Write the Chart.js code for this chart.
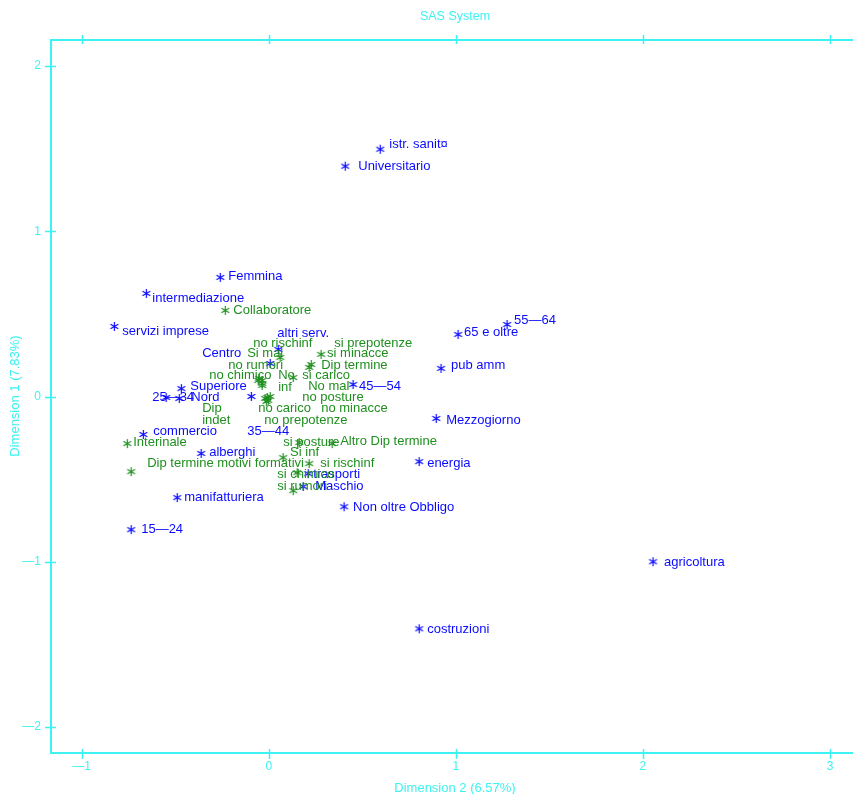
<!DOCTYPE html>
<html>
<head>
<meta charset="utf-8">
<script src="https://cdn.jsdelivr.net/npm/chart.js@4/dist/chart.umd.min.js"></script>
<style>
  html, body { margin: 0; padding: 0; background: #ffffff; }
  #wrap { width: 853px; height: 794px; }
</style>
</head>
<body>
<div id="wrap"><canvas id="c" width="853" height="794"></canvas></div>
<script>
// Correspondence analysis coordinates: Dimension 2 on x, Dimension 1 on y.

// Worker / firm profile categories (blue)
const rowNames = [
  "istr. sanit¤", "Universitario", "Femmina", "intermediazione", "servizi imprese",
  "altri serv.", "Centro", "Superiore", "25—34", "Nord", "35—44", "45—54",
  "55—64", "65 e oltre", "pub amm", "Mezzogiorno", "energia", "costruzioni",
  "agricoltura", "Non oltre Obbligo", "commercio", "alberghi", "trasporti",
  "Maschio", "manifatturiera", "15—24"
];
const rowDim2 = [
  0.596, 0.409, -0.259, -0.654, -0.825,
  0.051, 0.008, -0.467, -0.548, -0.478, -0.093, 0.451,
  1.274, 1.012, 0.921, 0.895, 0.804, 0.804,
  2.054, 0.403, -0.670, -0.361, 0.211,
  0.184, -0.489, -0.735
];
const rowDim1 = [
  1.497, 1.394, 0.721, 0.624, 0.424,
  0.285, 0.200, 0.048, -0.006, -0.012, 0.000, 0.073,
  0.436, 0.376, 0.170, -0.133, -0.394, -1.406,
  -1.000, -0.667, -0.230, -0.345, -0.467,
  -0.545, -0.612, -0.806
];

// Contract type and working-condition categories (green)
const colNames = [
  "Collaboratore", "Interinale", "Dip termine motivi formativi", "Dip termine",
  "Altro Dip termine", "si minacce", "si carico", "si rischinf", "si posture",
  "Si inf", "si chimico", "si rumori", "Si mal", "si prepotenze",
  "no rischinf", "no rumori", "no chimico", "No inf", "No mal", "no posture",
  "Dip indet", "no carico", "no minacce", "no prepotenze"
];
const colDim2 = [
  -0.232, -0.756, -0.735, 0.216,
  0.339, 0.280, 0.131, 0.216, 0.163,
  0.077, 0.152, 0.131, 0.061, 0.227,
  -0.035, -0.035, -0.056, -0.035, -0.051, -0.008,
  -0.019, -0.003, 0.008, -0.013
];
const colDim1 = [
  0.521, -0.285, -0.455, 0.176,
  -0.285, 0.255, 0.115, -0.406, -0.279,
  -0.370, -0.461, -0.570, 0.236, 0.194,
  0.097, 0.067, 0.097, 0.079, 0.109, -0.006,
  -0.012, -0.024, 0.000, -0.030
];

// Axis ticks
const xTicks = [-1, 0, 1, 2, 3];
const yTicks = [-2, -1, 0, 1, 2];

// Label placement next to each marker: [dx px, dy px, split words on lines]
const rowLabelPlacement = [
  [9, -5], [13, 0], [8, -1], [6, 5], [8, 5],
  [-1, -16], [-68, -10], [9, -2], [-14, 0], [12, -1], [-4, 35], [6, 2],
  [7, -4], [6, -2], [10, -3], [10, 2], [8, 2], [8, 1],
  [11, 1], [9, 1], [10, -3], [8, -1], [5, 1],
  [12, 0], [7, 0], [10, 0]
];
const colLabelPlacement = [
  [8, 0], [6, -1], [16, -8], [12, -2],
  [8, -2], [6, -1], [9, -2], [11, 0], [-16, 0],
  [7, -5], [-20, 2], [-16, -4], [-33, -4], [23, -21],
  [-9, -37], [-34, -20], [-49, -5], [16, -2.5, true], [49, 8], [35, 0],
  [-63, 16, true], [-10, 8], [51, 12], [-2, 19]
];

const AXIS = '#3ef2f2';
const BLUE = '#0a0aff';
const GREEN = '#1f8f1f';
const FONT = '"Liberation Sans", Arial, sans-serif';

const X_MIN = -1.1635, X_MAX = 3.1225;
const Y_MIN = -2.158, Y_MAX = 2.158;

const fmtTick = v => (v < 0 ? '\u2014' + Math.abs(v) : String(v));

// Six-armed asterisk marker
function asterisk(color) {
  const c = document.createElement('canvas');
  c.width = 11; c.height = 11;
  const g = c.getContext('2d');
  g.strokeStyle = color;
  g.lineWidth = 1.2;
  g.lineCap = 'butt';
  const r = 4.5, cx = 5.5, cy = 5.5;
  g.beginPath();
  [90, 30, 150].forEach(deg => {
    const a = deg * Math.PI / 180;
    g.moveTo(cx - r * Math.cos(a), cy - r * Math.sin(a));
    g.lineTo(cx + r * Math.cos(a), cy + r * Math.sin(a));
  });
  g.stroke();
  return c;
}

const pointLabels = {
  id: 'pointLabels',
  afterDatasetsDraw(chart) {
    const ctx = chart.ctx;
    ctx.save();
    ctx.font = '13px ' + FONT;
    ctx.textAlign = 'left';
    ctx.textBaseline = 'middle';
    chart.data.datasets.forEach((ds, di) => {
      const meta = chart.getDatasetMeta(di);
      ctx.fillStyle = ds.borderColor;
      meta.data.forEach((el, i) => {
        const [dx, dy, wrap] = ds.labelPlacement[i];
        const lines = wrap ? ds.names[i].split(' ') : [ds.names[i]];
        const lh = 12;
        lines.forEach((ln, k) => {
          ctx.fillText(ln, el.x + dx, el.y + dy + (k - (lines.length - 1) / 2) * lh);
        });
      });
    });
    ctx.restore();
  }
};

// Tick marks crossing the frame lines, plus the page and axis titles
const frameDecor = {
  id: 'frameDecor',
  afterDraw(chart) {
    const { ctx, chartArea: a } = chart;
    const xs = chart.scales.x, ys = chart.scales.y;
    ctx.save();
    ctx.strokeStyle = AXIS;
    ctx.lineWidth = 1.5;
    ctx.beginPath();
    xs.ticks.forEach(t => {
      const p = Math.round(xs.getPixelForValue(t.value)) + 0.5;
      ctx.moveTo(p, a.top - 5); ctx.lineTo(p, a.top + 4);
      ctx.moveTo(p, a.bottom - 4); ctx.lineTo(p, a.bottom + 6);
    });
    ys.ticks.forEach(t => {
      const p = Math.round(ys.getPixelForValue(t.value)) + 0.5;
      ctx.moveTo(a.left - 6, p); ctx.lineTo(a.left + 5, p);
    });
    ctx.stroke();

    ctx.fillStyle = AXIS;
    ctx.textAlign = 'center';
    ctx.textBaseline = 'middle';
    ctx.font = '12.5px ' + FONT;
    ctx.fillText('SAS System', 455, 17);
    ctx.font = '13px ' + FONT;
    ctx.fillText('Dimension 2 (6.57%)', 455, 788);
    ctx.translate(15, 396);
    ctx.rotate(-Math.PI / 2);
    ctx.fillText('Dimension 1 (7.83%)', 0, 0);
    ctx.restore();
  }
};

const toPoints = (xs, ys) => xs.map((x, i) => ({ x, y: ys[i] }));

new Chart(document.getElementById('c'), {
  type: 'scatter',
  data: {
    datasets: [
      {
        label: 'righe',
        data: toPoints(rowDim2, rowDim1),
        names: rowNames,
        labelPlacement: rowLabelPlacement,
        pointStyle: asterisk(BLUE),
        pointRadius: 5,
        borderColor: BLUE,
        backgroundColor: BLUE
      },
      {
        label: 'colonne',
        data: toPoints(colDim2, colDim1),
        names: colNames,
        labelPlacement: colLabelPlacement,
        pointStyle: asterisk(GREEN),
        pointRadius: 5,
        borderColor: GREEN,
        backgroundColor: GREEN
      }
    ]
  },
  options: {
    responsive: false,
    animation: false,
    events: [],
    layout: { padding: 0, autoPadding: false },
    plugins: {
      legend: { display: false },
      title: { display: false },
      tooltip: { enabled: false }
    },
    scales: {
      x: {
        type: 'linear',
        position: 'bottom',
        min: X_MIN, max: X_MAX,
        afterBuildTicks: s => { s.ticks = xTicks.map(v => ({ value: v })); },
        afterFit: s => { s.height = 41; },
        grid: { display: false, drawTicks: false },
        border: { display: true, color: AXIS, width: 2 },
        ticks: {
          color: AXIS, font: { family: FONT, size: 12 }, padding: 6,
          maxRotation: 0, autoSkip: false, callback: fmtTick
        }
      },
      xTop: {
        type: 'linear',
        position: 'top',
        min: X_MIN, max: X_MAX,
        afterBuildTicks: s => { s.ticks = xTicks.map(v => ({ value: v })); },
        afterFit: s => { s.height = 40; },
        grid: { display: false, drawTicks: false },
        border: { display: true, color: AXIS, width: 2 },
        ticks: { display: false }
      },
      y: {
        type: 'linear',
        position: 'left',
        min: Y_MIN, max: Y_MAX,
        afterBuildTicks: s => { s.ticks = yTicks.map(v => ({ value: v })); },
        afterFit: s => { s.width = 51; },
        grid: { display: false, drawTicks: false },
        border: { display: true, color: AXIS, width: 2 },
        ticks: {
          color: AXIS, font: { family: FONT, size: 12 }, padding: 10,
          autoSkip: false, callback: fmtTick
        }
      }
    }
  },
  plugins: [pointLabels, frameDecor]
});
</script>
</body>
</html>
